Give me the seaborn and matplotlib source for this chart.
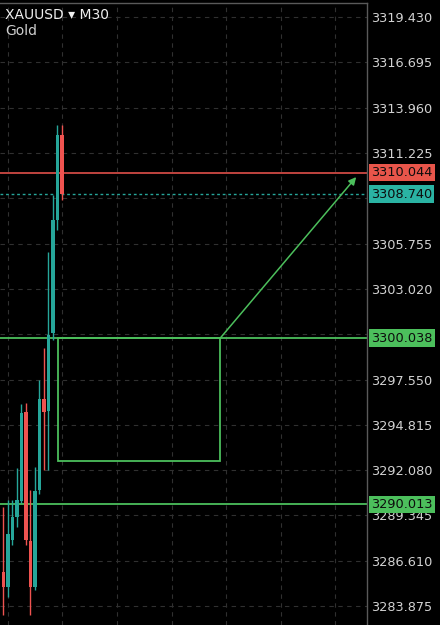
import matplotlib
matplotlib.use('Agg')
import matplotlib.pyplot as plt
import matplotlib.transforms as mtransforms
from matplotlib.patches import Rectangle
import numpy as np
import pandas as pd
import seaborn as sns

# Datos de velas (M30)
opens = [3285.95, 3285.05, 3287.87, 3289.25, 3290.20, 3295.59, 3287.81,
         3285.03, 3290.88, 3296.38, 3295.65, 3300.36, 3307.18, 3312.31]
highs = [3289.86, 3290.28, 3290.28, 3292.21, 3296.07, 3296.13, 3290.88,
         3292.27, 3297.52, 3299.45, 3305.25, 3308.69, 3312.91, 3312.91]
lows = [3283.34, 3284.43, 3287.56, 3288.65, 3290.10, 3287.56, 3283.34,
        3284.85, 3290.64, 3292.09, 3292.09, 3299.94, 3306.58, 3308.39]
closes = [3285.05, 3288.23, 3289.25, 3290.28, 3295.53, 3287.87, 3285.03,
          3290.82, 3296.38, 3295.59, 3300.24, 3307.18, 3312.31, 3308.74]

price_ticks = [3283.875, 3286.610, 3289.345, 3292.080, 3294.815, 3297.550,
               3300.285, 3303.020, 3305.755, 3308.490, 3311.225, 3313.960,
               3316.695, 3319.430]
# etiquetas tapadas por las cajas de precio
hidden_ticks = [3300.285, 3308.490]
grid_x = [1.04, 13.15, 25.27, 37.38, 49.5, 61.6, 73.7]

# Niveles marcados
level_red = 3310.044
level_last = 3308.740
level_zone_top = 3300.038
level_support = 3290.013
zone_bottom = 3292.63
zone_x = [12.16, 48.16]
target = [78.4, 3309.77]

TEAL = '#26a69a'
RED = '#ef5350'
GREEN = '#4cbf5c'
BG = '#000000'

sns.set_theme(style='dark', rc={'axes.facecolor': BG, 'figure.facecolor': BG})
plt.rcParams['font.family'] = ['DejaVu Sans']

df = pd.DataFrame({'open': opens, 'high': highs, 'low': lows, 'close': closes})
df['idx'] = np.arange(len(df))
df['up'] = df['close'] >= df['open']
df['color'] = np.where(df['up'], TEAL, RED)

fig = plt.figure(figsize=(4.4, 6.25), dpi=100)
ax = fig.add_axes([0, 0, 367 / 440, 622 / 625])
ax.set_facecolor(BG)

ax.set_xlim(-0.733, 80.8)
ax.set_ylim(3282.735, 3320.275)

# rejilla punteada
for gx in grid_x:
    ax.axvline(gx, color='#303030', lw=0.8, ls=(0, (4, 4)), zorder=0)
for py in price_ticks:
    ax.axhline(py, color='#303030', lw=0.8, ls=(0, (4, 4)), zorder=0)

# velas
ax.vlines(df['idx'], df['low'], df['high'], colors=df['color'], lw=1.0, zorder=3)
body_low = np.minimum(df['open'], df['close'])
body_h = np.abs(df['close'] - df['open'])
ax.bar(df['idx'], body_h, bottom=body_low, width=0.78, color=df['color'],
       edgecolor='none', linewidth=0, zorder=4)

# lineas horizontales
ax.axhline(level_red, color='#e0504a', lw=1.2, zorder=2)
ax.axhline(level_last, color=TEAL, lw=1.0, ls=(0, (2, 2)), zorder=2)
ax.axhline(level_zone_top, color=GREEN, lw=1.3, zorder=2)
ax.axhline(level_support, color=GREEN, lw=1.3, zorder=2)

# zona y flecha
ax.add_patch(Rectangle((zone_x[0], zone_bottom), zone_x[1] - zone_x[0],
                       level_zone_top - zone_bottom, fill=False, ec=GREEN, lw=1.3, zorder=2))
ax.annotate('', xy=(target[0], target[1]), xytext=(zone_x[1], level_zone_top),
            arrowprops=dict(arrowstyle='-|>', color=GREEN, lw=1.1, mutation_scale=11,
                            shrinkA=0, shrinkB=0), zorder=5)

# ejes
ax.set_xticks([])
ax.yaxis.tick_right()
ax.set_yticks(price_ticks)
ax.set_yticklabels(['' if p in hidden_ticks else f'{p:.3f}' for p in price_ticks])
ax.tick_params(axis='y', length=0, pad=2.7, labelcolor='#d2d2d2', labelsize=9.3)
for side in ['left', 'bottom']:
    ax.spines[side].set_visible(False)
for side in ['top', 'right']:
    ax.spines[side].set_visible(True)
    ax.spines[side].set_color('#5a5a5a')
    ax.spines[side].set_linewidth(1.0)
ax.grid(False)

# etiquetas de precio con caja
trans = mtransforms.blended_transform_factory(ax.transAxes, ax.transData)
for val, col in [(level_red, '#e8554a'), (level_last, '#2ab3a3'),
                 (level_zone_top, GREEN), (level_support, GREEN)]:
    ax.text(1.0105, val, f'{val:.3f}', transform=trans, ha='left', va='center',
            fontsize=9.3, color='#0d0d0d', clip_on=False, zorder=10,
            bbox=dict(boxstyle='square,pad=0.18', fc=col, ec='none'))

# titulo
fig.text(5 / 440, 1 - 15 / 625, 'XAUUSD \u25be M30', color='#f0f0f0', fontsize=10,
         ha='left', va='center')
fig.text(5 / 440, 1 - 31 / 625, 'Gold', color='#cfcfcf', fontsize=10,
         ha='left', va='center')

fig.savefig('out.png', dpi=100, facecolor=BG)
